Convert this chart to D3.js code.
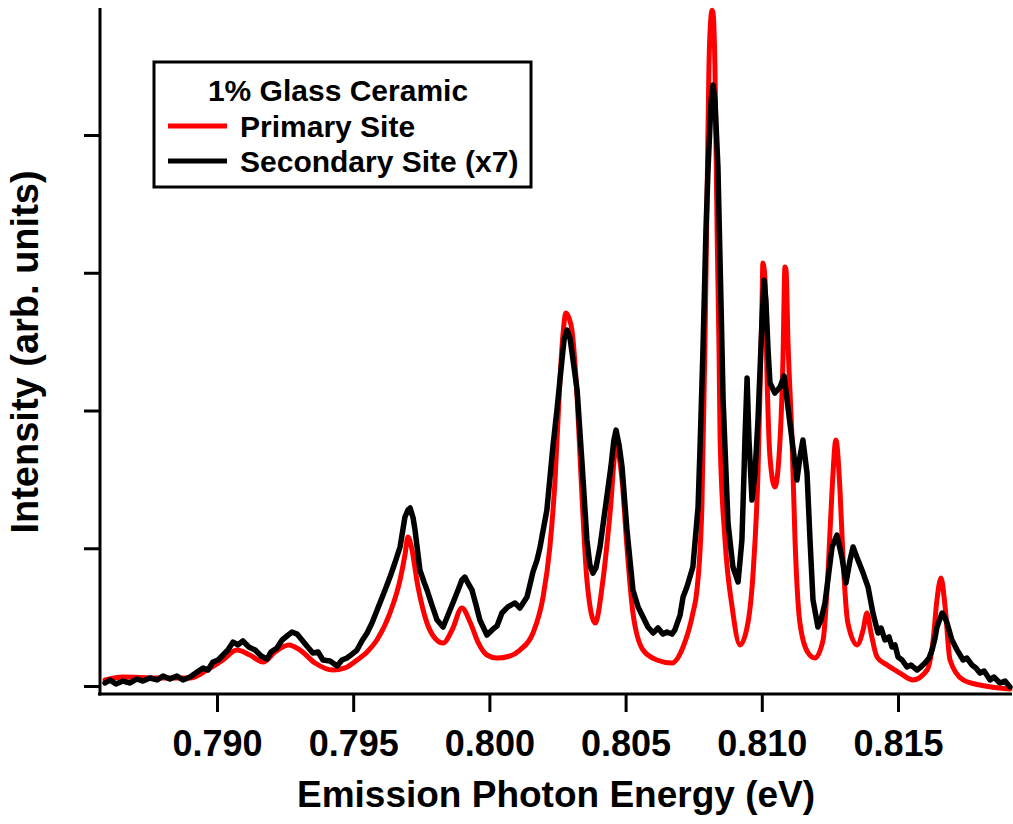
<!DOCTYPE html>
<html>
<head>
<meta charset="utf-8">
<script src="https://cdn.jsdelivr.net/npm/d3@7"></script>
<style>
  html, body { margin: 0; padding: 0; background: #fff; }
  svg { display: block; }
  text { font-family: "Liberation Sans", Arial, sans-serif; font-weight: bold; fill: #000; }
</style>
</head>
<body>
<svg id="chart" width="1013" height="824"></svg>
<script>
// ---------------- DATA ----------------
const xTickValues = [0.790, 0.795, 0.800, 0.805, 0.810, 0.815];
const yTickValues = [0, 1, 2, 3, 4];

const legendTitle = "1% Glass Ceramic";
const seriesNames = ["Primary Site", "Secondary Site (x7)"];
const seriesColors = ["#ff0000", "#000000"];

const primaryEnergy = [
  0.78589, 0.78655, 0.78780, 0.78901, 0.78963, 0.79022, 0.79073, 0.79121, 0.79169, 0.79213,
  0.79264, 0.79305, 0.79360, 0.79426, 0.79470, 0.79514, 0.79551, 0.79587, 0.79635, 0.79672,
  0.79690, 0.79701, 0.79712, 0.79738, 0.79771, 0.79800, 0.79830, 0.79863, 0.79899, 0.79929,
  0.79958, 0.79991, 0.80028, 0.80076, 0.80112, 0.80160, 0.80197, 0.80222, 0.80241, 0.80259,
  0.80270, 0.80281, 0.80292, 0.80303, 0.80322, 0.80340, 0.80358, 0.80388, 0.80417, 0.80443,
  0.80465, 0.80487, 0.80505, 0.80527, 0.80564, 0.80615, 0.80670, 0.80711, 0.80747, 0.80762,
  0.80780, 0.80791, 0.80799, 0.80806, 0.80814, 0.80817, 0.80821, 0.80828, 0.80836, 0.80843,
  0.80847, 0.80865, 0.80891, 0.80920, 0.80949, 0.80968, 0.80986, 0.81001, 0.81004, 0.81012,
  0.81019, 0.81030, 0.81048, 0.81067, 0.81078, 0.81085, 0.81089, 0.81096, 0.81111, 0.81122,
  0.81140, 0.81170, 0.81195, 0.81225, 0.81243, 0.81258, 0.81272, 0.81287, 0.81298, 0.81316,
  0.81350, 0.81372, 0.81386, 0.81401, 0.81423, 0.81460, 0.81507, 0.81555, 0.81607, 0.81629,
  0.81643, 0.81658, 0.81673, 0.81691, 0.81739, 0.81801, 0.81874, 0.81911
];
const primaryIntensity = [
  0.044, 0.065, 0.058, 0.058, 0.116, 0.189, 0.261, 0.225, 0.174, 0.247,
  0.298, 0.261, 0.167, 0.116, 0.131, 0.189, 0.247, 0.334, 0.530, 0.770,
  0.951, 1.082, 1.024, 0.719, 0.457, 0.348, 0.312, 0.407, 0.566, 0.465,
  0.319, 0.225, 0.203, 0.218, 0.261, 0.385, 0.646, 1.009, 1.495, 2.221,
  2.548, 2.708, 2.672, 2.584, 2.098, 1.372, 0.770, 0.457, 0.770, 1.256,
  1.735, 1.495, 1.009, 0.530, 0.261, 0.189, 0.167, 0.283, 0.530, 0.697,
  1.299, 2.439, 3.528, 4.494, 4.871, 4.905, 4.886, 4.494, 3.289, 2.439,
  1.786, 1.060, 0.574, 0.298, 0.457, 0.820, 1.546, 2.802, 3.071, 2.947,
  2.272, 1.662, 1.445, 1.786, 2.388, 3.042, 3.020, 2.512, 1.786, 1.060,
  0.457, 0.240, 0.203, 0.334, 0.820, 1.423, 1.786, 1.423, 0.936, 0.457,
  0.298, 0.407, 0.530, 0.385, 0.211, 0.152, 0.094, 0.044, 0.116, 0.334,
  0.624, 0.784, 0.574, 0.189, 0.044, 0.007, -0.015, -0.022
];

const secondaryEnergy = [
  0.78589, 0.78607, 0.78629, 0.78655, 0.78681, 0.78706, 0.78728, 0.78754, 0.78780, 0.78802,
  0.78827, 0.78853, 0.78875, 0.78901, 0.78927, 0.78949, 0.78967, 0.78985, 0.79004, 0.79022,
  0.79040, 0.79059, 0.79077, 0.79095, 0.79117, 0.79140, 0.79162, 0.79184, 0.79198, 0.79220,
  0.79239, 0.79257, 0.79275, 0.79294, 0.79312, 0.79330, 0.79352, 0.79371, 0.79389, 0.79415,
  0.79441, 0.79459, 0.79477, 0.79496, 0.79514, 0.79532, 0.79551, 0.79569, 0.79598, 0.79617,
  0.79635, 0.79653, 0.79672, 0.79690, 0.79701, 0.79709, 0.79720, 0.79727, 0.79745, 0.79760,
  0.79771, 0.79789, 0.79808, 0.79830, 0.79848, 0.79866, 0.79885, 0.79899, 0.79910, 0.79921,
  0.79936, 0.79951, 0.79965, 0.79991, 0.80010, 0.80028, 0.80046, 0.80068, 0.80094, 0.80112,
  0.80138, 0.80160, 0.80175, 0.80186, 0.80211, 0.80233, 0.80248, 0.80259, 0.80274, 0.80285,
  0.80296, 0.80307, 0.80322, 0.80340, 0.80358, 0.80369, 0.80380, 0.80391, 0.80406, 0.80417,
  0.80428, 0.80446, 0.80457, 0.80465, 0.80476, 0.80487, 0.80505, 0.80527, 0.80546, 0.80564,
  0.80582, 0.80601, 0.80619, 0.80637, 0.80652, 0.80670, 0.80681, 0.80700, 0.80711, 0.80725,
  0.80747, 0.80766, 0.80773, 0.80784, 0.80795, 0.80803, 0.80814, 0.80821, 0.80828, 0.80839,
  0.80850, 0.80858, 0.80876, 0.80894, 0.80913, 0.80927, 0.80935, 0.80938, 0.80946, 0.80953,
  0.80964, 0.80975, 0.80986, 0.80993, 0.81001, 0.81008, 0.81015, 0.81023, 0.81030, 0.81048,
  0.81067, 0.81082, 0.81096, 0.81111, 0.81129, 0.81140, 0.81151, 0.81166, 0.81177, 0.81188,
  0.81206, 0.81217, 0.81232, 0.81258, 0.81276, 0.81294, 0.81309, 0.81324, 0.81335, 0.81346,
  0.81353, 0.81372, 0.81390, 0.81408, 0.81419, 0.81427, 0.81438, 0.81452, 0.81467, 0.81478,
  0.81489, 0.81500, 0.81515, 0.81533, 0.81548, 0.81570, 0.81584, 0.81599, 0.81614, 0.81625,
  0.81636, 0.81643, 0.81662, 0.81673, 0.81680, 0.81698, 0.81717, 0.81728, 0.81739, 0.81753,
  0.81772, 0.81786, 0.81801, 0.81816, 0.81838, 0.81852, 0.81874, 0.81893, 0.81911
];
const secondaryIntensity = [
  0.022, 0.044, 0.015, 0.036, 0.022, 0.051, 0.036, 0.058, 0.044, 0.073,
  0.051, 0.073, 0.044, 0.065, 0.102, 0.131, 0.116, 0.174, 0.189, 0.225,
  0.261, 0.319, 0.298, 0.327, 0.283, 0.261, 0.218, 0.196, 0.247, 0.276,
  0.334, 0.363, 0.392, 0.377, 0.334, 0.290, 0.240, 0.247, 0.189, 0.181,
  0.145, 0.189, 0.203, 0.232, 0.261, 0.327, 0.385, 0.457, 0.603, 0.697,
  0.791, 0.893, 1.009, 1.227, 1.278, 1.292, 1.220, 1.132, 0.842, 0.755,
  0.697, 0.588, 0.479, 0.428, 0.515, 0.603, 0.697, 0.770, 0.791, 0.748,
  0.697, 0.588, 0.479, 0.370, 0.407, 0.436, 0.530, 0.574, 0.603, 0.566,
  0.646, 0.828, 0.915, 1.009, 1.278, 1.735, 2.004, 2.221, 2.512, 2.584,
  2.526, 2.367, 2.149, 1.619, 1.060, 0.878, 0.820, 0.857, 1.009, 1.169,
  1.328, 1.590, 1.786, 1.858, 1.750, 1.590, 1.132, 0.697, 0.574, 0.501,
  0.428, 0.385, 0.421, 0.377, 0.392, 0.377, 0.407, 0.515, 0.646, 0.719,
  0.864, 1.299, 1.713, 2.439, 3.310, 3.768, 4.254, 4.363, 4.254, 3.768,
  2.802, 2.076, 1.183, 0.864, 0.755, 1.060, 1.568, 1.786, 2.236, 1.786,
  1.350, 1.546, 1.931, 2.272, 2.657, 2.947, 2.802, 2.439, 2.200, 2.127,
  2.171, 2.250, 2.025, 1.786, 1.495, 1.662, 1.786, 1.546, 1.060, 0.624,
  0.428, 0.479, 0.603, 1.009, 1.096, 0.936, 0.748, 0.915, 1.009, 0.951,
  0.915, 0.820, 0.719, 0.530, 0.443, 0.385, 0.421, 0.334, 0.356, 0.283,
  0.298, 0.211, 0.189, 0.138, 0.152, 0.116, 0.138, 0.167, 0.203, 0.261,
  0.348, 0.428, 0.530, 0.494, 0.457, 0.334, 0.261, 0.225, 0.189, 0.203,
  0.152, 0.131, 0.094, 0.109, 0.044, 0.065, 0.022, 0.036, -0.007
];

// ---------------- CHART ----------------
const svg = d3.select("#chart");
const W = 1013, H = 824;
svg.append("rect").attr("width", W).attr("height", H).attr("fill", "#fff");

const plot = { left: 100, right: 1012, top: 8, bottom: 694 };

const x = d3.scaleLinear()
  .domain([0.785705, 0.819185])
  .range([plot.left, plot.right]);
const y = d3.scaleLinear()
  .domain([-0.058, 4.922])
  .range([plot.bottom, plot.top]);

const primary = primaryEnergy.map((e, i) => ({ e, v: primaryIntensity[i] }));
const secondary = secondaryEnergy.map((e, i) => ({ e, v: secondaryIntensity[i] }));

// series
const lineSmooth = d3.line().x(d => x(d.e)).y(d => y(d.v)).curve(d3.curveMonotoneX);
const lineRaw = d3.line().x(d => x(d.e)).y(d => y(d.v)).curve(d3.curveLinear);

svg.append("path").datum(primary)
  .attr("d", lineSmooth)
  .attr("fill", "none").attr("stroke", seriesColors[0])
  .attr("stroke-width", 5).attr("stroke-linejoin", "round").attr("stroke-linecap", "round");

svg.append("path").datum(secondary)
  .attr("d", lineRaw)
  .attr("fill", "none").attr("stroke", seriesColors[1])
  .attr("stroke-width", 5.5).attr("stroke-linejoin", "round").attr("stroke-linecap", "round");

// axes
const xAxis = d3.axisBottom(x).tickValues(xTickValues).tickFormat(d3.format(".3f"))
  .tickSize(18).tickPadding(18);
const gx = svg.append("g").attr("transform", `translate(0,${plot.bottom})`).call(xAxis);
gx.select(".domain").remove();
gx.selectAll(".tick line").attr("stroke", "#000").attr("stroke-width", 3);
gx.selectAll(".tick text").style("font-size", "36px").attr("fill", "#000").attr("dy", "0.71em");
svg.append("line")
  .attr("x1", plot.left - 2).attr("x2", plot.right)
  .attr("y1", plot.bottom).attr("y2", plot.bottom)
  .attr("stroke", "#000").attr("stroke-width", 3);

const yAxis = d3.axisLeft(y).tickValues(yTickValues).tickFormat("").tickSize(16);
const gy = svg.append("g").attr("transform", `translate(${plot.left},0)`).call(yAxis);
gy.select(".domain").remove();
gy.selectAll(".tick line").attr("stroke", "#000").attr("stroke-width", 3);
svg.append("line")
  .attr("x1", plot.left).attr("x2", plot.left)
  .attr("y1", plot.top).attr("y2", plot.bottom + 1.5)
  .attr("stroke", "#000").attr("stroke-width", 3);

// axis titles
svg.append("text")
  .attr("x", 556).attr("y", 807)
  .attr("text-anchor", "middle")
  .style("font-size", "37px")
  .text("Emission Photon Energy (eV)");

svg.append("text")
  .attr("transform", "translate(38,352) rotate(-90)")
  .attr("text-anchor", "middle")
  .style("font-size", "38px")
  .text("Intensity (arb. units)");

// legend
const lg = svg.append("g");
lg.append("rect")
  .attr("x", 154).attr("y", 62).attr("width", 377).attr("height", 125)
  .attr("fill", "#fff").attr("stroke", "#000").attr("stroke-width", 3);
lg.append("text")
  .attr("x", 338).attr("y", 101).attr("text-anchor", "middle")
  .style("font-size", "30px").text(legendTitle);
const legendRows = [126, 161];
seriesNames.forEach((name, i) => {
  lg.append("line")
    .attr("x1", 168).attr("x2", 227)
    .attr("y1", legendRows[i]).attr("y2", legendRows[i])
    .attr("stroke", seriesColors[i]).attr("stroke-width", 5);
  lg.append("text")
    .attr("x", 240).attr("y", legendRows[i] + 10.5)
    .style("font-size", "30px").text(name);
});
</script>
</body>
</html>
